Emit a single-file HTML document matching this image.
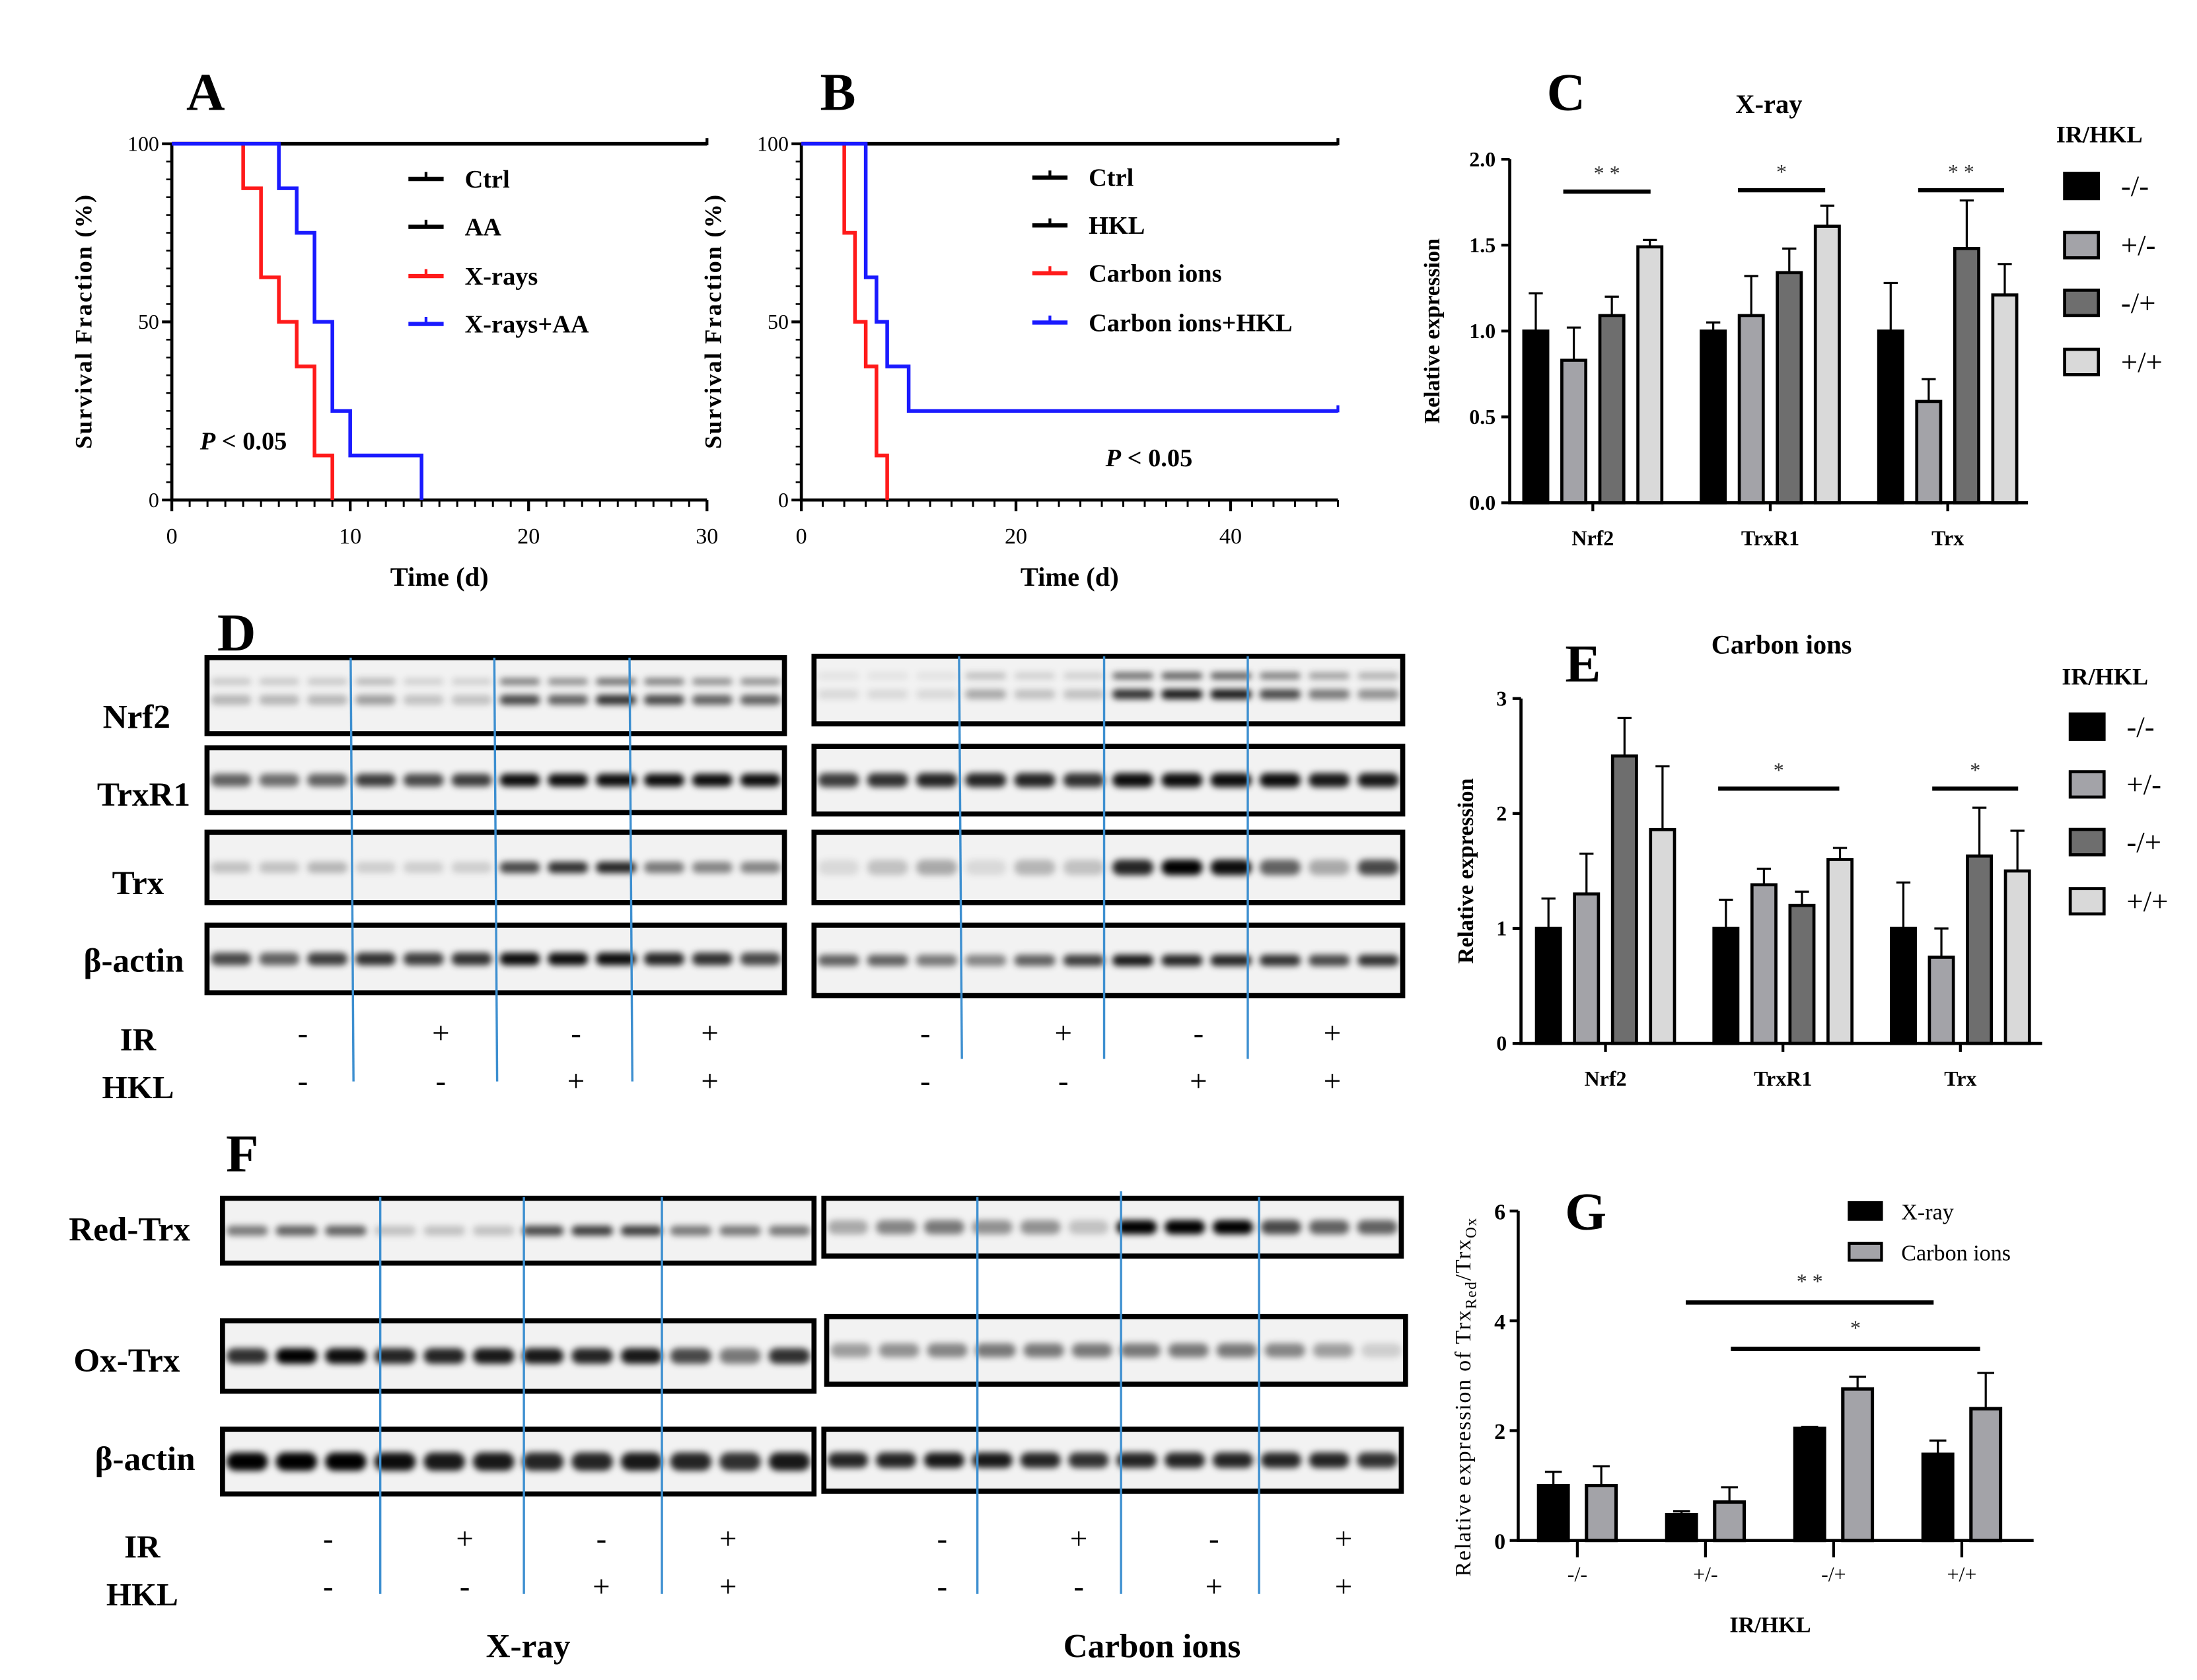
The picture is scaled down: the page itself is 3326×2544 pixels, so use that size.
<!DOCTYPE html>
<html><head><meta charset="utf-8"><style>
html,body{margin:0;padding:0;background:#fff;}
svg{display:block;}
text{font-family:"Liberation Serif",serif;}
</style></head><body>
<svg id="fig" xmlns="http://www.w3.org/2000/svg" width="3326" height="2544" viewBox="0 0 1560 1193">
<defs><filter id="blur" x="-50%" y="-100%" width="200%" height="300%"><feGaussianBlur stdDeviation="2.2"/></filter></defs>
<rect width="1560" height="1193" fill="#fff"/>
</svg>
<script>
// ---------- DATA ----------
const kmA_xray_t=[4,5,6,7,8,9];
const kmA_xray_s=[87.5,62.5,50,37.5,12.5,0];
const kmA_aa_t=[6,7,8,9,10,14];
const kmA_aa_s=[87.5,75,50,25,12.5,0];
const kmB_c_t=[4,5,6,7,8];
const kmB_c_s=[75,50,37.5,12.5,0];
const kmB_chkl_t=[6,7,8,10];
const kmB_chkl_s=[62.5,50,37.5,25];
const kmA_xticks=[0,10,20,30];
const kmB_xticks=[0,20,40];
const km_yticks=[0,50,100];

const geneCats=['Nrf2','TrxR1','Trx'];
const condLabels=['-/-','+/-','-/+','+/+'];
const C_mean=[[1.0,0.83,1.09,1.49],[1.0,1.09,1.34,1.61],[1.0,0.59,1.48,1.21]];
const C_err=[[0.22,0.19,0.11,0.04],[0.05,0.23,0.14,0.12],[0.28,0.13,0.28,0.18]];
const C_yticks=['0.0','0.5','1.0','1.5','2.0'];
const E_mean=[[1.0,1.3,2.5,1.86],[1.0,1.38,1.2,1.6],[1.0,0.75,1.63,1.5]];
const E_err=[[0.26,0.35,0.33,0.55],[0.25,0.14,0.12,0.1],[0.4,0.25,0.42,0.35]];
const E_yticks=['0','1','2','3'];
const G_xray=[1.0,0.47,2.04,1.57];
const G_xray_err=[0.25,0.06,0.03,0.25];
const G_carbon=[1.0,0.7,2.76,2.4];
const G_carbon_err=[0.35,0.27,0.22,0.65];
const G_yticks=['0','2','4','6'];

const svg=document.getElementById('fig');
const NS='http://www.w3.org/2000/svg';
function mk(tag,attrs,parent){const e=document.createElementNS(NS,tag);for(const k in attrs)e.setAttribute(k,attrs[k]);(parent||svg).appendChild(e);return e;}
function txt(x,y,s,size,opts,parent){opts=opts||{};const e=mk('text',{x:x,y:y,'font-size':size,'text-anchor':opts.anchor||'middle','font-weight':opts.bold===false?'normal':'bold',fill:opts.fill||'#000'},parent);if(opts.transform)e.setAttribute('transform',opts.transform);if(opts.italic)e.setAttribute('font-style','italic');e.textContent=s;return e;}

// ---------- KM plots ----------
function km(cfg){
  const g=mk('g',{});
  
  
  const X=v=>cfg.x0+(v-0)*(cfg.x1-cfg.x0)/cfg.xmax;
  const Y=v=>cfg.y0+(cfg.y1-cfg.y0)*v/100;
  let l=txt(cfg.labx,78,cfg.letter,38,{},g);
  
  
  // axes
  let ax=mk('path',{d:`M${cfg.x0},${cfg.y1} V${cfg.y0} H${cfg.x1}`,stroke:'#000','stroke-width':2.2,fill:'none'},g);
  
  
  for(let v=0;v<=cfg.xmax;v+=cfg.minor){const maj=v%cfg.major===0;mk('line',{x1:X(v),x2:X(v),y1:cfg.y0,y2:cfg.y0+(maj?8:5),stroke:'#000','stroke-width':maj?2:1.4},g);}
  for(let v=0;v<=100;v+=5){const maj=v%50===0;mk('line',{x1:cfg.x0,x2:cfg.x0-(maj?7:4),y1:Y(v),y2:Y(v),stroke:'#000','stroke-width':maj?2:1.2},g);}
  cfg.xticks.forEach(v=>{const t=txt(X(v),386,String(v),16,{bold:false},g);});
  km_yticks.forEach(v=>{const t=txt(cfg.x0-9,Y(v)+5,String(v),15,{bold:false,anchor:'end'},g);});
  let xt=txt((cfg.x0+cfg.x1)/2-(cfg.xmax==30?0:0)+cfg.xtOff,416,'Time (d)',19,{},g);
  
  let yt=txt(0,0,'Survival Fraction (%)',17,{transform:`translate(${cfg.x0-57},228) rotate(-90)`},g);
  yt.setAttribute('letter-spacing','1');
  
  // ctrl line
  let ctrl=mk('line',{x1:cfg.x0,x2:cfg.x1,y1:Y(100),y2:Y(100),stroke:'#000','stroke-width':2.6},g);
  
  mk('line',{x1:cfg.x1,x2:cfg.x1,y1:Y(100)-4,y2:Y(100)+1,stroke:'#000','stroke-width':2},g);
  cfg.series.forEach(s=>{
    let d=`M${X(0)},${Y(100)}`;let cur=100;
    s.t.forEach((t,i)=>{d+=` H${X(t)} V${Y(s.s[i])}`;cur=s.s[i];});
    if(s.end!==undefined){d+=` H${X(s.end)}`;}
    const p=mk('path',{d:d,stroke:s.color,'stroke-width':2.6,fill:'none'},g);
    
    
    if(s.end!==undefined)mk('line',{x1:X(s.end),x2:X(s.end),y1:Y(cur)-4,y2:Y(cur)+1,stroke:s.color,'stroke-width':2},g);
  });
  cfg.legend.forEach((e,i)=>{
    const y=cfg.legY[i];
    const lg=mk('g',{},g);
    
    
    mk('line',{x1:cfg.legX,x2:cfg.legX+25,y1:y,y2:y,stroke:e[1],'stroke-width':3},lg);
    mk('line',{x1:cfg.legX+12.5,x2:cfg.legX+12.5,y1:y-5,y2:y,stroke:e[1],'stroke-width':2},lg);
    txt(cfg.legX+40,y+6,e[0],18,{anchor:'start'},lg);
  });
  const pv=mk('text',{x:cfg.px,y:cfg.py,'font-size':18,'font-weight':'bold','text-anchor':'start'},g);
  
  pv.innerHTML='<tspan font-style="italic">P</tspan> &lt; 0.05';
}
km({name:'panel-a-survival',letter:'A',labx:146,x0:122,x1:502,xmax:30,minor:1,major:10,y0:355,y1:102,xticks:kmA_xticks,xtOff:0,
  series:[{name:'x-rays-curve',t:kmA_xray_t,s:kmA_xray_s,color:'#ff1a1a'},{name:'x-rays-aa-curve',t:kmA_aa_t,s:kmA_aa_s,color:'#1a1aff'}],
  legend:[['Ctrl','#000'],['AA','#000'],['X-rays','#ff1a1a'],['X-rays+AA','#1a1aff']],legX:290,legY:[127,161,196,230],px:142,py:319});
km({name:'panel-b-survival',letter:'B',labx:595,x0:569,x1:950,xmax:50,minor:2,major:20,y0:355,y1:102,xticks:kmB_xticks,xtOff:0,
  series:[{name:'carbon-ions-curve',t:kmB_c_t,s:kmB_c_s,color:'#ff1a1a'},{name:'carbon-ions-hkl-curve',t:kmB_chkl_t,s:kmB_chkl_s,color:'#1a1aff',end:50}],
  legend:[['Ctrl','#000'],['HKL','#000'],['Carbon ions','#ff1a1a'],['Carbon ions+HKL','#1a1aff']],legX:733,legY:[126,160,194,229],px:785,py:331});

// ---------- bar charts ----------
const barFill=['#000','#a3a3a8','#6e6e6e','#d9d9d9'];
function barChart(cfg){
  const g=mk('g',{});
  
  
  const Y=v=>cfg.y0-(cfg.y0-cfg.y1)*v/cfg.ymax;
  let l=txt(cfg.labx,cfg.laby,cfg.letter,38,{},g);
  
  let t=txt(cfg.titleX,cfg.titleY,cfg.title,19,{},g);
  
  cfg.means.forEach((grp,gi)=>{
    const cx=cfg.gc0+gi*cfg.gstep;
    grp.forEach((v,bi)=>{
      const bx=cx+(bi-1.5)*cfg.bstep;
      const e=cfg.errs[gi][bi];
      const eb=mk('path',{d:`M${bx},${Y(v)} V${Y(v+e)} M${bx-5},${Y(v+e)} H${bx+5}`,stroke:'#000','stroke-width':1.5,fill:'none'},g);
      
      const r=mk('rect',{x:bx-cfg.bw/2,y:Y(v),width:cfg.bw,height:Y(0)-Y(v),fill:barFill[bi],stroke:'#000','stroke-width':2.2},g);
      
      
    });
    mk('line',{x1:cx,x2:cx,y1:cfg.y0,y2:cfg.y0+6,stroke:'#000','stroke-width':2},g);
    const xl=txt(cx,cfg.y0+30,geneCats[gi],15,{},g);
    
  });
  mk('path',{d:`M${cfg.x0},${cfg.y1} V${cfg.y0} H${cfg.x1}`,stroke:'#000','stroke-width':2.2,fill:'none'},g);
  cfg.yticks.forEach((s,i)=>{const v=i*cfg.ymax/(cfg.yticks.length-1);
    mk('line',{x1:cfg.x0,x2:cfg.x0-6,y1:Y(v),y2:Y(v),stroke:'#000','stroke-width':2},g);
    const yl=txt(cfg.x0-10,Y(v)+5,s,15,{anchor:'end'},g);
    });
  const yt=txt(0,0,'Relative expression',16,{transform:`translate(${cfg.ylx},${(cfg.y0+cfg.y1)/2}) rotate(-90)`},g);
  
  cfg.sig.forEach(s=>{
    const sl=mk('line',{x1:s[0],x2:s[1],y1:s[2],y2:s[2],stroke:'#000','stroke-width':3},g);
    
    const st=txt((s[0]+s[1])/2,s[2]-8,s[3],15,{bold:false,fill:'#333'},g);
    
  });
  const lt=txt(cfg.legX-6,cfg.legTY,'IR/HKL',17,{anchor:'start'},g);
  
  condLabels.forEach((c,i)=>{
    const y=cfg.legY[i];
    const lg=mk('g',{},g);
    
    mk('rect',{x:cfg.legX,y:y-9,width:24,height:18,fill:barFill[i],stroke:'#000','stroke-width':2.2},lg);
    txt(cfg.legX+40,y+7,c,21,{anchor:'start',bold:false},lg);
  });
}
barChart({name:'panel-c-xray-expression',letter:'C',labx:1112,laby:78,title:'X-ray',titleX:1256,titleY:80,x0:1072,x1:1440,y0:357,y1:113,ymax:2,
  means:C_mean,errs:C_err,yticks:C_yticks,gc0:1131,gstep:126,bstep:27,bw:17,ylx:1022,
  sig:[[1110,1172,136,'* *'],[1234,1296,135,'*'],[1362,1423,135,'* *']],legX:1466,legTY:101,legY:[132,174,215,257]});
barChart({name:'panel-e-carbon-expression',letter:'E',labx:1124,laby:484,title:'Carbon ions',titleX:1265,titleY:464,x0:1080,x1:1450,y0:741,y1:496,ymax:3,
  means:E_mean,errs:E_err,yticks:E_yticks,gc0:1140,gstep:126,bstep:27,bw:17,ylx:1046,
  sig:[[1220,1306,560,'*'],[1372,1433,560,'*']],legX:1470,legTY:486,legY:[516,557,598,640]});

// ---------- panel G ----------
(function(){
  const g=mk('g',{});
  
  
  const x0=1078,x1=1444,y0=1094,y1=860,ymax=6;
  const Y=v=>y0-(y0-y1)*v/ymax;
  const gc=[1120,1211,1302,1393];
  let l=txt(1126,873,'G',38,{},g);
  const ser=[[G_xray,G_xray_err,'#000',-17],[G_carbon,G_carbon_err,'#a3a3a8',17]];
  condLabels.forEach((c,i)=>{
    ser.forEach((s,si)=>{
      const bx=gc[i]+s[3],v=s[0][i],e=s[1][i];
      const eb=mk('path',{d:`M${bx},${Y(v)} V${Y(v+e)} M${bx-6},${Y(v+e)} H${bx+6}`,stroke:'#000','stroke-width':1.5,fill:'none'},g);
      
      const r=mk('rect',{x:bx-10.5,y:Y(v),width:21,height:Y(0)-Y(v),fill:s[2],stroke:'#000','stroke-width':2.4},g);
      
      
    });
    mk('line',{x1:gc[i],x2:gc[i],y1:y0,y2:y0+12,stroke:'#000','stroke-width':2},g);
    const xl=txt(gc[i],y0+29,c,15,{bold:false},g);
    
  });
  mk('path',{d:`M${x0},${y1} V${y0} H${x1}`,stroke:'#000','stroke-width':2.2,fill:'none'},g);
  G_yticks.forEach((s,i)=>{const v=i*2;
    mk('line',{x1:x0,x2:x0-6,y1:Y(v),y2:Y(v),stroke:'#000','stroke-width':2},g);
    const yl=txt(x0-9,Y(v)+6,s,16,{anchor:'end'},g);
    });
  const yt=mk('text',{'font-size':16,'text-anchor':'middle','letter-spacing':'0.8',transform:`translate(1044,992) rotate(-90)`},g);
  
  yt.innerHTML='Relative expression of Trx<tspan font-size="11" dy="4">Red</tspan><tspan dy="-4">/Trx</tspan><tspan font-size="11" dy="4">Ox</tspan>';
  const xt=txt(1257,1159,'IR/HKL',16,{},g);
  [[1197,1373,925,'* *'],[1229,1406,958,'*']].forEach(s=>{
    const sl=mk('line',{x1:s[0],x2:s[1],y1:s[2],y2:s[2],stroke:'#000','stroke-width':3},g);
    
    const st=txt((s[0]+s[1])/2,s[2]-10,s[3],15,{bold:false,fill:'#333'},g);
    
  });
  [['X-ray','#000',860],['Carbon ions','#a3a3a8',889]].forEach(e=>{
    const lg=mk('g',{},g);
    
    mk('rect',{x:1313,y:e[2]-6,width:23,height:12,fill:e[1],stroke:'#000','stroke-width':2},lg);
    txt(1350,e[2]+6,e[0],16,{anchor:'start',bold:false},lg);
  });
})();

// ---------- western blots ----------
const D_nrf2_L=[0.25,0.25,0.25,0.35,0.2,0.2,0.7,0.6,0.8,0.7,0.6,0.6];
const D_trxr1_L=[0.6,0.55,0.6,0.75,0.7,0.75,0.95,0.95,0.95,0.95,0.95,0.95];
const D_trx_L=[0.2,0.2,0.25,0.15,0.15,0.15,0.7,0.8,0.85,0.5,0.45,0.45];
const D_actin_L=[0.7,0.6,0.75,0.8,0.75,0.8,0.95,0.95,0.95,0.85,0.8,0.7];
const D_nrf2_R=[0.1,0.1,0.1,0.3,0.2,0.2,0.8,0.9,0.9,0.7,0.5,0.4];
const D_trxr1_R=[0.75,0.8,0.85,0.85,0.85,0.8,0.95,0.95,0.95,0.95,0.9,0.9];
const D_trx_R=[0.1,0.2,0.3,0.1,0.25,0.2,0.85,1,0.95,0.6,0.3,0.7];
const D_actin_R=[0.6,0.6,0.5,0.45,0.6,0.75,0.9,0.85,0.85,0.8,0.7,0.8];
const F_red_L=[0.5,0.6,0.6,0.2,0.2,0.2,0.7,0.75,0.75,0.5,0.5,0.5];
const F_ox_L=[0.8,1,0.95,0.85,0.85,0.9,0.9,0.85,0.9,0.7,0.5,0.8];
const F_act_L=[1,1,1,0.95,0.9,0.9,0.85,0.85,0.9,0.85,0.8,0.9];
const F_red_R=[0.3,0.45,0.5,0.4,0.4,0.2,1,1,1,0.7,0.6,0.6];
const F_ox_R=[0.35,0.4,0.45,0.5,0.5,0.5,0.5,0.5,0.5,0.45,0.35,0.15];
const F_act_R=[0.85,0.85,0.9,0.9,0.85,0.8,0.85,0.85,0.85,0.85,0.85,0.8];

function blot(name,x,y,w,h,vals,bandH,second){
  const g=mk('g',{});
  
  
  mk('rect',{x:x,y:y,width:w,height:h,fill:'#f2f2f2'},g);
  const lw=w/12;
  vals.forEach((v,i)=>{
    const cx=x+lw*(i+0.5);
    const b=mk('rect',{x:cx-lw*0.42,y:y+h/2-bandH/2+(second?3:0),width:lw*0.84,height:bandH,rx:bandH/2,fill:'#000','fill-opacity':v,filter:'url(#blur)'},g);
    
    
    if(second){mk('rect',{x:cx-lw*0.42,y:y+h/2-bandH/2-9,width:lw*0.84,height:bandH*0.7,rx:3,fill:'#000','fill-opacity':v*0.7,filter:'url(#blur)'},g);}
  });
  mk('rect',{x:x,y:y,width:w,height:h,fill:'none',stroke:'#000','stroke-width':3.6},g);
}
blot('blot-d-nrf2-xray',147,467,410,54,D_nrf2_L,7,true);
blot('blot-d-trxr1-xray',147,531,410,46,D_trxr1_L,9);
blot('blot-d-trx-xray',147,591,410,50,D_trx_L,8);
blot('blot-d-actin-xray',147,657,410,48,D_actin_L,9);
blot('blot-d-nrf2-carbon',578,466,418,48,D_nrf2_R,7,true);
blot('blot-d-trxr1-carbon',578,530,418,48,D_trxr1_R,10);
blot('blot-d-trx-carbon',578,591,418,50,D_trx_R,11);
blot('blot-d-actin-carbon',578,657,418,50,D_actin_R,8);
blot('blot-f-redtrx-xray',158,851,420,46,F_red_L,7);
blot('blot-f-oxtrx-xray',158,938,420,50,F_ox_L,11);
blot('blot-f-actin-xray',158,1015,420,46,F_act_L,13);
blot('blot-f-redtrx-carbon',585,851,410,41,F_red_R,10);
blot('blot-f-oxtrx-carbon',587,935,411,48,F_ox_R,10);
blot('blot-f-actin-carbon',585,1015,410,44,F_act_R,11);

// blot labels
[['Nrf2',97,517],['TrxR1',102,572],['Trx',98,635],['β-actin',95,690],['Red-Trx',92,881],['Ox-Trx',90,974],['β-actin',103,1044]].forEach(a=>{
  const t=txt(a[1],a[2],a[0],24,{});
  
  
});
let dl=txt(168,462,'D',38,{});
let fl=txt(172,832,'F',38,{});
// lane separators
[[249,467,768],[351,467,768],[447,467,768],[681,466,752],[784,466,752],[886,466,752],[270,850,1132],[372,850,1132],[470,850,1132],[694,850,1132],[796,846,1132],[894,850,1132]].forEach(a=>{
  const l=mk('line',{x1:a[0],x2:a[0]+(a[0]%2?2:0),y1:a[1],y2:a[2],stroke:'#3d8fd0','stroke-width':1.6});
  
  
});
// IR/HKL signs
const IRsigns=['-','+','-','+'];const HKLsigns=['-','-','+','+'];
function signs(xs,yIR,yH){xs.forEach((x,i)=>{
  const a=txt(x,yIR,IRsigns[i],22,{bold:false});
  const b=txt(x,yH,HKLsigns[i],22,{bold:false});
});}
signs([215,313,409,504],741,775);signs([657,755,851,946],741,775);
signs([233,330,427,517],1100,1134);signs([669,766,862,954],1100,1134);
[['IR',98,746],['HKL',98,780],['IR',101,1106],['HKL',101,1140]].forEach(a=>{const t=txt(a[1],a[2],a[0],23,{});});
[['X-ray',375,1177],['Carbon ions',818,1177]].forEach(a=>{const t=txt(a[1],a[2],a[0],24,{});});
</script>
</body></html>
